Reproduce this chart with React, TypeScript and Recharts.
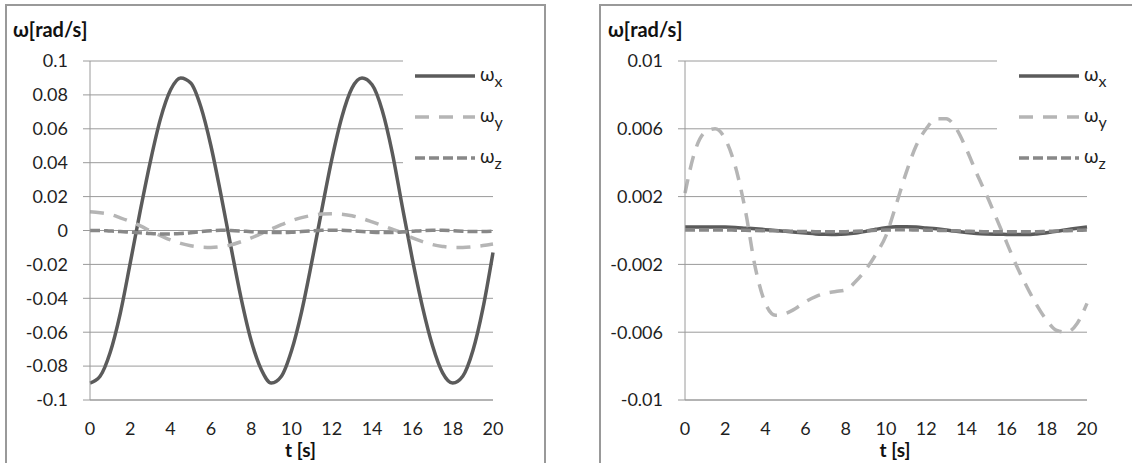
import { CartesianGrid, Label, Legend, Line, LineChart, XAxis, YAxis } from "recharts";

const FONT = "Lato, 'Open Sans', sans-serif";

const time = [
  0, 0.5, 1, 1.5, 2, 2.5, 3, 3.5, 4, 4.5, 5, 5.5, 6, 6.5, 7, 7.5, 8, 8.5, 9, 9.5, 10,
  10.5, 11, 11.5, 12, 12.5, 13, 13.5, 14, 14.5, 15, 15.5, 16, 16.5, 17, 17.5, 18, 18.5, 19, 19.5, 20,
];

// left panel
const wxLeft = [
  -0.09, -0.086, -0.072, -0.049, -0.019, 0.012, 0.041, 0.066, 0.083, 0.09, 0.087, 0.073, 0.05, 0.021,
  -0.01, -0.04, -0.065, -0.082, -0.09, -0.086, -0.071, -0.048, -0.019, 0.012, 0.042, 0.067, 0.084,
  0.09, 0.086, 0.071, 0.046, 0.014, -0.017, -0.045, -0.068, -0.084, -0.09, -0.086, -0.071, -0.046, -0.013,
];
const wyLeft = [
  0.011, 0.0105, 0.0095, 0.0075, 0.0053, 0.0027, -0.0003, -0.003, -0.0056, -0.0076, -0.009, -0.0098,
  -0.01, -0.0095, -0.0085, -0.0066, -0.0044, -0.0018, 0.0008, 0.0034, 0.0058, 0.0076, 0.0089, 0.0097,
  0.0099, 0.0096, 0.0087, 0.0071, 0.0051, 0.003, 0.0008, -0.0015, -0.0044, -0.0066, -0.0083, -0.0094,
  -0.01, -0.01, -0.0096, -0.0089, -0.008,
];
const wzLeft = [
  0, 0, -0.0003, -0.0006, -0.001, -0.0014, -0.0018, -0.002, -0.002, -0.0018, -0.0013, -0.0007, -0.0002,
  0.0001, 0, -0.0003, -0.0007, -0.001, -0.0012, -0.0012, -0.001, -0.0006, -0.0002, 0.0001, 0.0002, 0.0001,
  -0.0002, -0.0006, -0.001, -0.0012, -0.0012, -0.0009, -0.0005, -0.0001, 0.0001, 0.0001, -0.0001, -0.0004,
  -0.0006, -0.0006, -0.0004,
];

// right panel
const wxRight = [
  0.0002, 0.0002, 0.0002, 0.0002, 0.0002, 0.00018, 0.00014, 0.0001, 0.00005, 0, -0.00005, -0.0001,
  -0.00015, -0.0002, -0.00022, -0.00023, -0.00021, -0.00015, -0.00005, 0.00007, 0.00017, 0.00022,
  0.00022, 0.0002, 0.00015, 0.0001, 0.00003, -0.00005, -0.00012, -0.00017, -0.0002, -0.00022, -0.00023,
  -0.00024, -0.00024, -0.0002, -0.00013, -0.00005, 0.00005, 0.00013, 0.0002,
];
const wyRight = [
  0.0022, 0.0047, 0.0058, 0.006, 0.0054, 0.0038, 0.0012, -0.0022, -0.0043, -0.005, -0.0049, -0.0046,
  -0.0042, -0.0039, -0.0037, -0.0036, -0.0035, -0.003, -0.0023, -0.0014, -0.0003, 0.0015, 0.0034, 0.005,
  0.006, 0.0066, 0.0066, 0.006, 0.0048, 0.0034, 0.0021, 0.0007, -0.0007, -0.0021, -0.0033, -0.0044,
  -0.0053, -0.0059, -0.006, -0.0055, -0.0043,
];
const wzRight = [
  0.00003, 0.00003, 0.00003, 0.00003, 0.00003, 0.00002, 0.00001, 0, -0.00001, -0.00002, -0.00003,
  -0.00005, -0.00006, -0.00007, -0.00008, -0.00008, -0.00007, -0.00005, -0.00002, 0.00001, 0.00003,
  0.00004, 0.00004, 0.00003, 0.00002, 0.00001, 0, -0.00002, -0.00004, -0.00006, -0.00007, -0.00008,
  -0.00008, -0.00008, -0.00008, -0.00007, -0.00005, -0.00003, -0.00001, 0.00001, 0.00003,
];

const xTicks = [0, 2, 4, 6, 8, 10, 12, 14, 16, 18, 20];
const yTicksLeft = [-0.1, -0.08, -0.06, -0.04, -0.02, 0, 0.02, 0.04, 0.06, 0.08, 0.1];
const yTicksRight = [-0.01, -0.006, -0.002, 0.002, 0.006, 0.01];

const SERIES = [
  { key: "wx", sub: "x", color: "#5b5b5b", dash: undefined as string | undefined },
  { key: "wy", sub: "y", color: "#b5b5b5", dash: "14 10" },
  { key: "wz", sub: "z", color: "#888888", dash: "10 4" },
];

const leftRows = time.map((t, i) => ({ t, wx: wxLeft[i], wy: wyLeft[i], wz: wzLeft[i] }));
const rightRows = time.map((t, i) => ({ t, wx: wxRight[i], wy: wyRight[i], wz: wzRight[i] }));

const GRID = "#9a9a9a";
const TICK = { fill: "#1f1f1f", fontSize: 18, fontFamily: FONT };

function LegendBox({ lineX, width }: { lineX: number; width: number }) {
  return (
    <svg width={width} height={130} style={{ display: "block", background: "#fff" }}>
      {SERIES.map((s, i) => {
        const y = 22 + i * 41;
        return (
          <g key={s.key}>
            <line x1={lineX} x2={lineX + 60} y1={y} y2={y} stroke={s.color} strokeWidth={3.5}
              strokeDasharray={s.dash} />
            <text x={lineX + 65} y={y + 5} fontSize={19} fontFamily={FONT} fill="#1f1f1f">
              ω<tspan dy={6} fontSize={16}>{s.sub}</tspan>
            </text>
          </g>
        );
      })}
    </svg>
  );
}

function Panel({ rows, yTicks, yWidth, chartWidth, legendLeft, legendLineX, legendWidth }: {
  rows: typeof leftRows; yTicks: number[]; yWidth: number; chartWidth: number;
  legendLeft: number; legendLineX: number; legendWidth: number;
}) {
  const lo = yTicks[0];
  const hi = yTicks[yTicks.length - 1];
  return (
    <LineChart width={chartWidth} height={463} data={rows} margin={{ top: 61, right: 45, bottom: 0, left: 0 }}>
      <CartesianGrid vertical={false} stroke={GRID} />
      <XAxis dataKey="t" type="number" domain={[0, 20]} ticks={xTicks} interval={0} height={63}
        axisLine={{ stroke: GRID }} tickLine={false} tickSize={0} tickMargin={22} tick={TICK}>
        <Label content={({ viewBox }: any) => (
          <text x={viewBox.x + viewBox.width / 2 + 9} y={457} textAnchor="middle" fontSize={19}
            fontWeight="bold" fontFamily={FONT} fill="#111">t [s]</text>
        )} />
      </XAxis>
      <YAxis type="number" domain={[lo, hi]} ticks={yTicks} interval={0} width={yWidth}
        axisLine={{ stroke: GRID }} tickLine={{ stroke: GRID }} tickSize={7} tickMargin={15}
        tick={TICK} tickFormatter={(v: number) => String(v)}>
        <Label content={({ viewBox }: any) => (
          <text x={viewBox.x + yWidth - 77} y={37} fontSize={20} fontWeight="bold"
            fontFamily={FONT} fill="#111">ω[rad/s]</text>
        )} />
      </YAxis>
      <Legend layout="vertical" align="center" verticalAlign="middle"
        wrapperStyle={{ left: legendLeft, top: 54, width: legendWidth }}
        content={() => <LegendBox lineX={legendLineX} width={legendWidth} />} />
      {SERIES.map((s) => (
        <Line key={s.key} dataKey={s.key} type="monotone" stroke={s.color} strokeWidth={3.5}
          strokeDasharray={s.dash} dot={false} activeDot={false} isAnimationActive={false} />
      ))}
    </LineChart>
  );
}

export default function App() {
  return (
    <div style={{ position: "absolute", left: 0, top: 0, width: 1132, height: 463, overflow: "hidden", background: "#fff" }}>
      <div style={{ position: "absolute", left: 5, top: 4, width: 537, height: 480, border: "2px solid #999" }} />
      <div style={{ position: "absolute", left: 599, top: 4, width: 600, height: 480, border: "2px solid #999" }} />
      <div style={{ position: "absolute", left: 0, top: 0 }}>
        <Panel rows={leftRows} yTicks={yTicksLeft} yWidth={90} chartWidth={538}
          legendLeft={403} legendLineX={12} legendWidth={112} />
      </div>
      <div style={{ position: "absolute", left: 570, top: 0 }}>
        <Panel rows={rightRows} yTicks={yTicksRight} yWidth={115} chartWidth={562}
          legendLeft={427} legendLineX={22} legendWidth={122} />
      </div>
    </div>
  );
}
